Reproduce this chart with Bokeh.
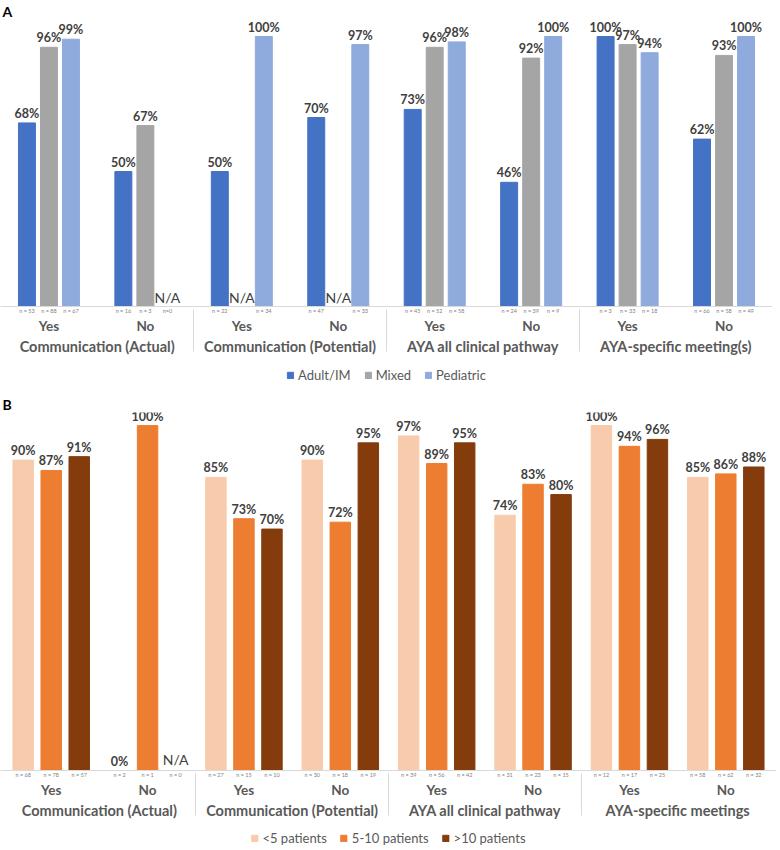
from bokeh.core.properties import value
from bokeh.embed import file_html
from bokeh.layouts import column
from bokeh.models import ColumnDataSource, FactorRange, Legend, LegendItem, Range1d
from bokeh.plotting import figure
from bokeh.resources import INLINE

FONT = "Lato"
answers = ["Yes", "No"]

# Panel A: by type of treating unit
groups_a = ["Communication (Actual)", "Communication (Potential)",
            "AYA all clinical pathway", "AYA-specific meeting(s)"]
series_a = ["Adult/IM", "Mixed", "Pediatric"]
colors_a = ["#4472C4", "#A5A5A5", "#8FAADC"]
adult_pct = [68, 50, 50, 70, 73, 46, 100, 62]
mixed_pct = [96, 67, None, None, 96, 92, 97, 93]
pediatric_pct = [99, None, 100, 97, 98, 100, 94, 100]
adult_n = ["n = 53", "n = 16", "n = 22", "n = 47", "n = 45", "n = 24", "n = 3", "n = 66"]
mixed_n = ["n = 88", "n = 3", " ", " ", "n = 52", "n = 39", "n = 33", "n = 58"]
pediatric_n = ["n = 67", "n=0", "n = 34", "n = 33", "n = 58", "n = 9", "n = 18", "n = 49"]

# Panel B: by number of AYA patients
groups_b = ["Communication (Actual)", "Communication (Potential)",
            "AYA all clinical pathway", "AYA-specific meetings"]
series_b = ["<5 patients", "5-10 patients", ">10 patients"]
colors_b = ["#F8CBAD", "#ED7D31", "#843C0C"]
small_pct = [90, 0, 85, 90, 97, 74, 100, 85]
medium_pct = [87, 100, 73, 72, 89, 83, 94, 86]
large_pct = [91, None, 70, 95, 95, 80, 96, 88]
small_n = ["n = 68", "n = 2", "n = 27", "n = 30", "n = 39", "n = 31", "n = 12", "n = 58"]
medium_n = ["n = 78", "n = 1", "n = 15", "n = 18", "n = 56", "n = 23", "n = 17", "n = 62"]
large_n = ["n = 57", "n = 0", "n = 10", "n = 19", "n = 42", "n = 15", "n = 25", "n = 32"]


def make_panel(letter, groups, series, colors, pcts, ns, pad, bar_width,
               range_pad, width, frame_height, y_top, na_offset):
    keys = [(g, a) for g in groups for a in answers]
    factors = [(g, a, n[k]) for k, (g, a) in enumerate(keys) for n in ns]
    x_range = FactorRange(*factors, factor_padding=0, subgroup_padding=pad,
                          group_padding=pad, range_padding=range_pad,
                          range_padding_units="absolute")
    p = figure(x_range=x_range, y_range=Range1d(0, y_top),
               frame_width=width, frame_height=frame_height,
               title=letter, toolbar_location=None, output_backend="svg",
               y_axis_location=None, min_border=0)

    for color, pct, n in zip(colors, pcts, ns):
        xs = [(g, a, n[k]) for k, (g, a) in enumerate(keys) if pct[k] is not None]
        tops = [v for v in pct if v is not None]
        src = ColumnDataSource(dict(x=xs, top=tops, label=[f"{v}%" for v in tops]))
        p.vbar(x="x", top="top", width=bar_width, color=color, source=src)
        p.text(x="x", y="top", text="label", source=src, text_align="center",
               text_baseline="bottom", y_offset=-2, text_font=value(FONT),
               text_font_style="bold", text_font_size="12.5px", text_color="#404040")
        na_x = [(g, a, n[k]) for k, (g, a) in enumerate(keys) if pct[k] is None]
        if na_x:
            na_src = ColumnDataSource(dict(x=na_x, y=[0] * len(na_x), label=["N/A"] * len(na_x)))
            p.text(x="x", y="y", text="label", source=na_src, text_align="center",
                   text_baseline="bottom", y_offset=na_offset, text_font=value(FONT),
                   text_font_size="14px", text_color="#404040")

    p.title.text_font = FONT
    p.title.text_font_size = "14px"
    p.title.text_font_style = "bold"
    p.title.text_color = "#000000"
    p.title.standoff = 0
    p.title.offset = 2

    p.xgrid.visible = False
    p.ygrid.visible = False
    p.outline_line_color = None

    ax = p.xaxis[0]
    ax.axis_line_color = "#d9d9d9"
    ax.major_tick_line_color = None
    ax.minor_tick_line_color = None
    ax.major_tick_out = 0
    ax.major_tick_in = 0
    ax.major_label_standoff = 1
    ax.major_label_text_font = FONT
    ax.major_label_text_font_size = "5.5px"
    ax.major_label_text_color = "#7f7f7f"
    ax.subgroup_text_font = FONT
    ax.subgroup_text_font_size = "13.5px"
    ax.subgroup_text_font_style = "bold"
    ax.subgroup_text_color = "#595959"
    ax.group_text_font = FONT
    ax.group_text_font_size = "14.5px"
    ax.group_text_font_style = "bold"
    ax.group_text_color = "#595959"
    ax.separator_line_color = "#d9d9d9"
    ax.separator_line_width = 1
    return p


def make_legend(series, colors, width, height):
    # the legend sits in a strip of its own below each panel;
    # its swatch renderers lie outside the strip's visible range
    p = figure(x_range=Range1d(0, 1), y_range=Range1d(0, 1), width=width, height=height,
               toolbar_location=None, output_backend="svg", min_border=0,
               x_axis_location=None, y_axis_location=None)
    p.xgrid.visible = False
    p.ygrid.visible = False
    p.outline_line_color = None
    items = []
    for name, color in zip(series, colors):
        r = p.vbar(x=[5], top=[1], width=0.5, color=color)
        items.append(LegendItem(label=name, renderers=[r]))
    legend = Legend(items=items, orientation="horizontal", location="center",
                    border_line_color=None, background_fill_alpha=0,
                    label_text_font=FONT, label_text_font_size="13px",
                    label_text_color="#595959", glyph_width=8, glyph_height=8,
                    label_standoff=4, label_height=14, spacing=13, padding=0, margin=0)
    p.add_layout(legend)
    return p


p_a = make_panel("A", groups_a, series_a, colors_a,
                 [adult_pct, mixed_pct, pediatric_pct],
                 [adult_n, mixed_n, pediatric_n],
                 pad=1.38, bar_width=0.77, range_pad=0.70, width=772,
                 frame_height=287, y_top=106.3, na_offset=-1)
leg_a = make_legend(series_a, colors_a, 772, 36)
p_b = make_panel("B", groups_b, series_b, colors_b,
                 [small_pct, medium_pct, large_pct],
                 [small_n, medium_n, large_n],
                 pad=0.44, bar_width=0.73, range_pad=0.31, width=776,
                 frame_height=358, y_top=103.8, na_offset=-3)
leg_b = make_legend(series_b, colors_b, 776, 34)

layout = column(p_a, leg_a, p_b, leg_b, spacing=0)
open("out.html", "w").write(file_html(layout, INLINE))
